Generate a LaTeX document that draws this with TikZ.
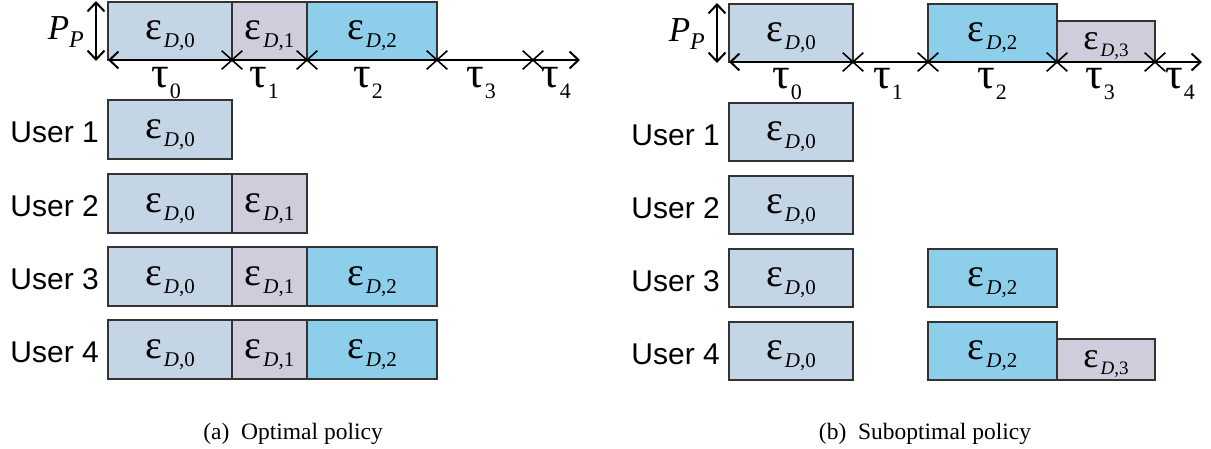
\documentclass[tikz,border=0pt]{standalone}
\usepackage{fontspec}
\setmainfont{Liberation Serif}
\newfontfamily\usrfont{Liberation Sans}
\usetikzlibrary{arrows.meta,shapes.misc}
\definecolor{cA}{HTML}{C4D6E6}
\definecolor{cB}{HTML}{CFCCDC}
\definecolor{cC}{HTML}{8DCEEA}
\definecolor{bd}{HTML}{333333}
\newcommand\epsl[1]{{\fontsize{40}{40}\selectfont ε}\raisebox{-8pt}{\fontsize{21}{21}\selectfont\hspace{2pt}\textit{D},#1}}
\newcommand\epss[1]{{\fontsize{36}{36}\selectfont ε}\raisebox{-7pt}{\fontsize{19}{19}\selectfont\hspace{2pt}\textit{D},#1}}
\newcommand\taul[1]{{\fontsize{44}{44}\selectfont τ}\raisebox{-11pt}{\fontsize{22}{22}\selectfont\hspace{1pt}#1}}
\newcommand\ppl{{\fontsize{35}{35}\selectfont\textit{P}}\raisebox{-8pt}{\fontsize{24}{24}\selectfont\textit{P}}}
\begin{document}
\begin{tikzpicture}[x=1pt,y=-1pt,
  box/.style={draw=bd,line width=1.2pt,inner sep=0pt,outer sep=0pt,anchor=north west,
    text height=17pt,text depth=0pt},
  axis/.style={line width=2pt,{Straight Barb[length=9pt,width=17pt,line width=2pt]}-{Straight Barb[length=9pt,width=17pt,line width=2pt]}},
  crs/.style={draw,cross out,line width=1.6pt,minimum width=19pt,minimum height=17pt,inner sep=0pt},
  tlab/.style={anchor=base,inner sep=0pt},
  ulab/.style={anchor=base east,inner sep=0pt,font=\usrfont\fontsize{30}{30}\selectfont},
  plab/.style={anchor=base east,inner sep=0pt},
  captn/.style={anchor=base,inner sep=0pt,font=\fontsize{23.5}{23.5}\selectfont}]
\useasboundingbox (0,0) rectangle (1211,448);

% ================= (a) =================
\node[box,fill=cA,minimum width=124pt,minimum height=58pt] (a0) at (108,2) {\epsl{0}};
\node[box,fill=cB,minimum width=75pt,minimum height=58pt] (a1) at (232,2) {\epsl{1}};
\node[box,fill=cC,minimum width=130pt,minimum height=58pt] (a2) at (307,2) {\epsl{2}};

\coordinate (aL) at (108,60);
\coordinate (aR) at (580,60);
\draw[axis] (aL) -- (aR);
\coordinate (aPT) at (96,1);
\coordinate (aPB) at (96,61);
\draw[axis] (aPT) -- (aPB);
\node[plab] (aP) at (84,39) {\ppl};
\node[crs] (ax1) at (232,60) {};
\node[crs] (ax2) at (307,60) {};
\node[crs] (ax3) at (437,60) {};
\node[crs] (ax4) at (533,60) {};
\node[tlab] (at0) at (166,87) {\taul{0}};
\node[tlab] (at1) at (264,87) {\taul{1}};
\node[tlab] (at2) at (368,87) {\taul{2}};
\node[tlab] (at3) at (481,87) {\taul{3}};
\node[tlab] (at4) at (556,87) {\taul{4}};

% rows
\node[ulab] (au1) at (99,142) {User 1};
\node[box,fill=cA,minimum width=124pt,minimum height=59pt] (a10) at (108,100) {\epsl{0}};

\node[ulab] (au2) at (99,216) {User 2};
\node[box,fill=cA,minimum width=124pt,minimum height=59pt] (a20) at (108,174) {\epsl{0}};
\node[box,fill=cB,minimum width=75pt,minimum height=59pt] (a21) at (232,174) {\epsl{1}};

\node[ulab] (au3) at (99,289) {User 3};
\node[box,fill=cA,minimum width=124pt,minimum height=59pt] (a30) at (108,247) {\epsl{0}};
\node[box,fill=cB,minimum width=75pt,minimum height=59pt] (a31) at (232,247) {\epsl{1}};
\node[box,fill=cC,minimum width=130pt,minimum height=59pt] (a32) at (307,247) {\epsl{2}};

\node[ulab] (au4) at (99,362) {User 4};
\node[box,fill=cA,minimum width=124pt,minimum height=59pt] (a40) at (108,320) {\epsl{0}};
\node[box,fill=cB,minimum width=75pt,minimum height=59pt] (a41) at (232,320) {\epsl{1}};
\node[box,fill=cC,minimum width=130pt,minimum height=59pt] (a42) at (307,320) {\epsl{2}};

\node[captn] (acap) at (293,439) {(a)\ \ Optimal policy};

% ================= (b) =================
\node[box,fill=cA,minimum width=124pt,minimum height=58pt] (b0) at (729,4) {\epsl{0}};
\node[box,fill=cC,minimum width=129pt,minimum height=58pt] (b2) at (928,4) {\epsl{2}};
\node[box,fill=cB,minimum width=98pt,minimum height=41pt,text height=15pt] (b3) at (1057,21) {\epss{3}};

\coordinate (bL) at (729,62);
\coordinate (bR) at (1202,62);
\draw[axis] (bL) -- (bR);
\coordinate (bPT) at (717,3);
\coordinate (bPB) at (717,63);
\draw[axis] (bPT) -- (bPB);
\node[plab] (bP) at (705,41) {\ppl};
\node[crs] (bx1) at (853,62) {};
\node[crs] (bx2) at (928,62) {};
\node[crs] (bx3) at (1057,62) {};
\node[crs] (bx4) at (1155,62) {};
\node[tlab] (bt0) at (787,88) {\taul{0}};
\node[tlab] (bt1) at (888,88) {\taul{1}};
\node[tlab] (bt2) at (992,88) {\taul{2}};
\node[tlab] (bt3) at (1100,88) {\taul{3}};
\node[tlab] (bt4) at (1180,88) {\taul{4}};

\node[ulab] (bu1) at (720,145) {User 1};
\node[box,fill=cA,minimum width=124pt,minimum height=58pt] (b10) at (729,103) {\epsl{0}};

\node[ulab] (bu2) at (720,218) {User 2};
\node[box,fill=cA,minimum width=124pt,minimum height=58pt] (b20) at (729,176) {\epsl{0}};

\node[ulab] (bu3) at (720,291) {User 3};
\node[box,fill=cA,minimum width=124pt,minimum height=58pt] (b30) at (729,249) {\epsl{0}};
\node[box,fill=cC,minimum width=129pt,minimum height=58pt] (b32) at (928,249) {\epsl{2}};

\node[ulab] (bu4) at (720,364) {User 4};
\node[box,fill=cA,minimum width=124pt,minimum height=58pt] (b40) at (729,322) {\epsl{0}};
\node[box,fill=cC,minimum width=129pt,minimum height=58pt] (b42) at (928,322) {\epsl{2}};
\node[box,fill=cB,minimum width=98pt,minimum height=41pt,text height=15pt] (b43) at (1057,339) {\epss{3}};

\node[captn] (bcap) at (925,439) {(b)\ \ Suboptimal policy};
\end{tikzpicture}
\end{document}
